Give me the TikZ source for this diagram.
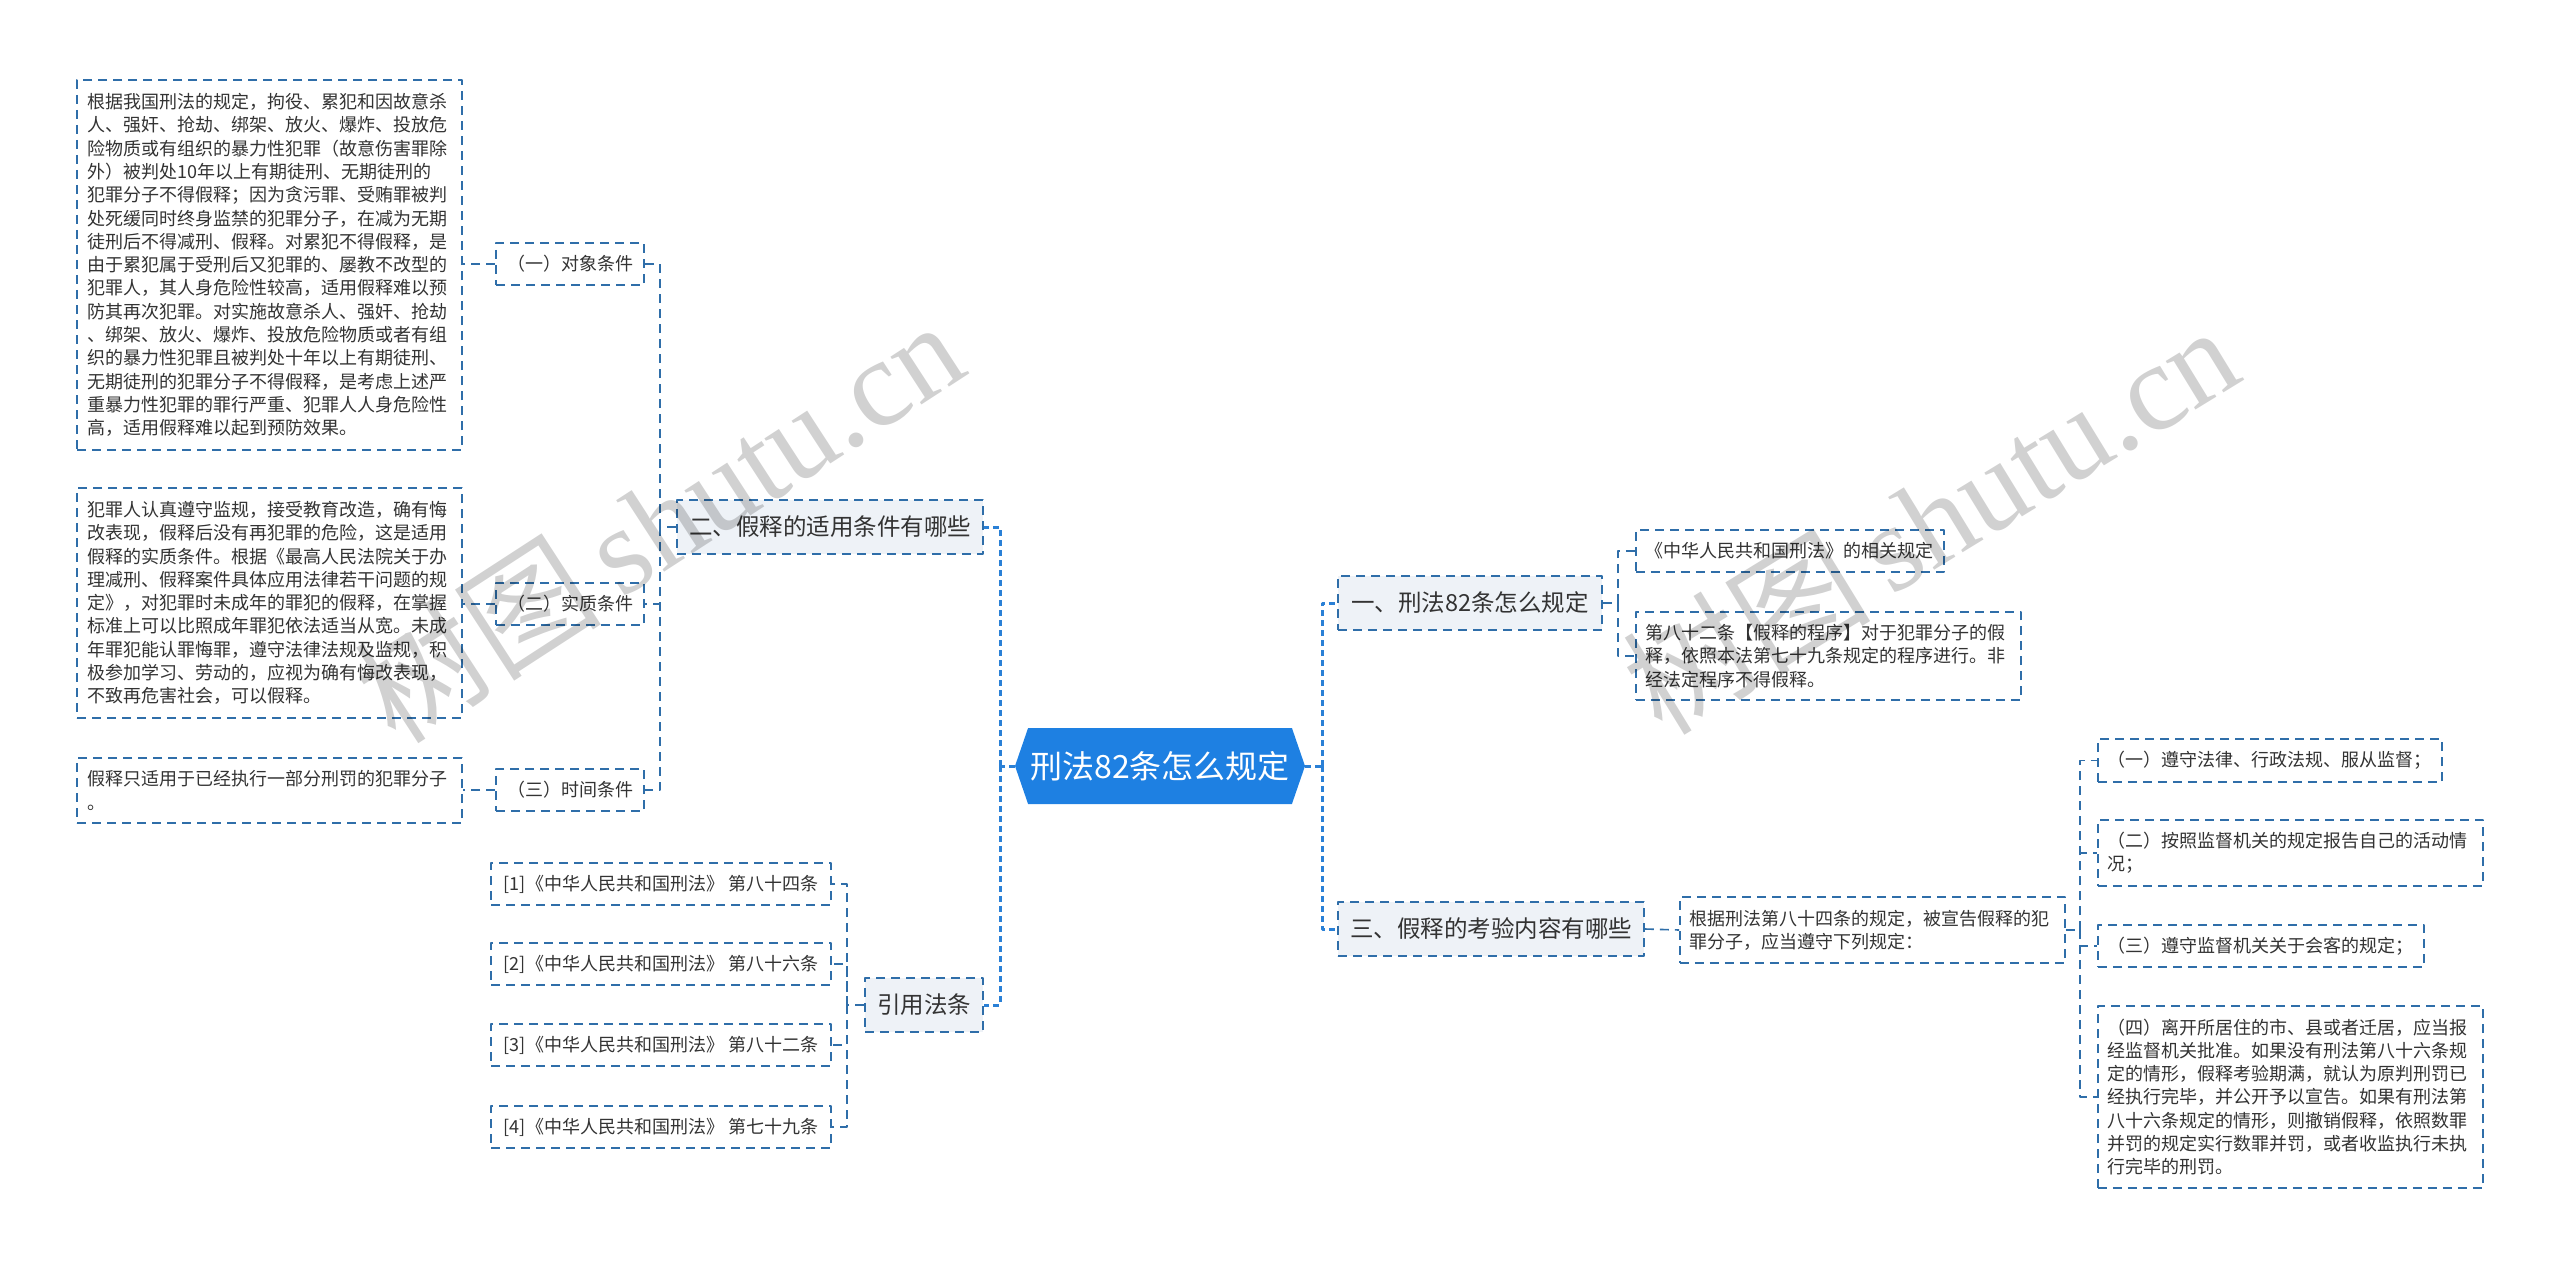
\documentclass[tikz,border=0pt]{standalone}
\usepackage{fontspec}
\setmainfont{Noto Sans CJK SC}
\newfontfamily\wmfont{Liberation Serif}
\usetikzlibrary{shapes.symbols}

\definecolor{lineblue}{HTML}{2F6EA9}
\definecolor{trunkblue}{HTML}{2A80D6}
\definecolor{rootblue}{HTML}{1E80E2}
\definecolor{topicfill}{HTML}{EEF2F7}
\definecolor{txt}{HTML}{333333}

\begin{document}
\begin{tikzpicture}[x=1pt, y=-1pt, line join=round]

	% Kiểu dáng chung cho các hộp và đường nối
	\tikzset{
		box/.style={draw=lineblue, line width=1.6pt, dash pattern=on 9pt off 6pt,
			fill=white, text=txt, inner xsep=10pt, inner ysep=3pt, align=left,
			font=\fontsize{18}{23.3}\selectfont},
		topic/.style={box, fill=topicfill, align=center, minimum height=54pt,
			inner xsep=8pt, font=\fontsize{23.5}{28}\selectfont},
		root/.style={shape=signal, signal to=east and west, signal pointer angle=142,
			fill=rootblue, text=white, minimum width=290pt, minimum height=76pt,
			inner sep=0pt, font=\fontsize{32}{36}\selectfont},
		link/.style={draw=lineblue, line width=1.6pt, dash pattern=on 9pt off 6pt},
		trunk/.style={draw=trunkblue, line width=3pt, dash pattern=on 6pt off 4pt},
		wmark/.style={text=black, opacity=0.18, font=\fontsize{124}{124}\selectfont}
	}

	\useasboundingbox (0,0) rectangle (2560,1268);

	% ----------------------------------------------------
	% NÚT GỐC VÀ CÁC NHÁNH CHÍNH
	% ----------------------------------------------------
	\node[root] (R) at (1160,766) {刑法82条怎么规定};

	\node[topic, minimum width=264pt] (K1) at (1470,603) {一、刑法82条怎么规定};
	\node[topic, minimum width=306pt] (K2) at (830,527) {二、假释的适用条件有哪些};
	\node[topic, minimum width=306pt] (K3) at (1491,929) {三、假释的考验内容有哪些};
	\node[topic, minimum width=118pt] (K4) at (924,1005) {引用法条};

	% ----------------------------------------------------
	% NHÁNH MỘT (bên phải, phía trên)
	% ----------------------------------------------------
	\node[box, anchor=west, minimum height=42pt] (K1a) at (1635,551) {《中华人民共和国刑法》的相关规定};
	\node[box, anchor=west, text width=365pt, minimum height=88pt] (K1b) at (1635,656)
		{第八十二条【假释的程序】对于犯罪分子的假\\释，依照本法第七十九条规定的程序进行。非\\经法定程序不得假释。};

	% ----------------------------------------------------
	% NHÁNH HAI (bên trái, phía trên)
	% ----------------------------------------------------
	\node[box, align=center, minimum width=148pt, minimum height=42pt] (K2a) at (570,264) {（一）对象条件};
	\node[box, align=center, minimum width=148pt, minimum height=42pt] (K2b) at (570,604) {（二）实质条件};
	\node[box, align=center, minimum width=148pt, minimum height=42pt] (K2c) at (570,790) {（三）时间条件};

	\node[box, anchor=east, text width=365pt, minimum height=370pt] (P2a) at (463,265)
		{根据我国刑法的规定，拘役、累犯和因故意杀\\人、强奸、抢劫、绑架、放火、爆炸、投放危\\险物质或有组织的暴力性犯罪（故意伤害罪除\\外）被判处10年以上有期徒刑、无期徒刑的\\犯罪分子不得假释；因为贪污罪、受贿罪被判\\处死缓同时终身监禁的犯罪分子，在减为无期\\徒刑后不得减刑、假释。对累犯不得假释，是\\由于累犯属于受刑后又犯罪的、屡教不改型的\\犯罪人，其人身危险性较高，适用假释难以预\\防其再次犯罪。对实施故意杀人、强奸、抢劫\\、绑架、放火、爆炸、投放危险物质或者有组\\织的暴力性犯罪且被判处十年以上有期徒刑、\\无期徒刑的犯罪分子不得假释，是考虑上述严\\重暴力性犯罪的罪行严重、犯罪人人身危险性\\高，适用假释难以起到预防效果。};
	\node[box, anchor=east, text width=365pt, minimum height=230pt] (P2b) at (463,603)
		{犯罪人认真遵守监规，接受教育改造，确有悔\\改表现，假释后没有再犯罪的危险，这是适用\\假释的实质条件。根据《最高人民法院关于办\\理减刑、假释案件具体应用法律若干问题的规\\定》，对犯罪时未成年的罪犯的假释，在掌握\\标准上可以比照成年罪犯依法适当从宽。未成\\年罪犯能认罪悔罪，遵守法律法规及监规，积\\极参加学习、劳动的，应视为确有悔改表现，\\不致再危害社会，可以假释。};
	\node[box, anchor=east, text width=365pt, minimum height=65pt] (P2c) at (463,790.5)
		{假释只适用于已经执行一部分刑罚的犯罪分子\\。};

	% ----------------------------------------------------
	% NHÁNH BA (bên phải, phía dưới)
	% ----------------------------------------------------
	\node[box, anchor=west, text width=365pt, minimum height=66pt] (K3a) at (1679,930)
		{根据刑法第八十四条的规定，被宣告假释的犯\\罪分子，应当遵守下列规定：};

	\node[box, anchor=west, minimum height=43pt] (Q1) at (2097,760.5) {（一）遵守法律、行政法规、服从监督；};
	\node[box, anchor=west, text width=365pt, minimum height=66pt] (Q2) at (2097,853)
		{（二）按照监督机关的规定报告自己的活动情\\况；};
	\node[box, anchor=west, minimum height=42pt] (Q3) at (2097,946) {（三）遵守监督机关关于会客的规定；};
	\node[box, anchor=west, text width=365pt, minimum height=182pt] (Q4) at (2097,1097)
		{（四）离开所居住的市、县或者迁居，应当报\\经监督机关批准。如果没有刑法第八十六条规\\定的情形，假释考验期满，就认为原判刑罚已\\经执行完毕，并公开予以宣告。如果有刑法第\\八十六条规定的情形，则撤销假释，依照数罪\\并罚的规定实行数罪并罚，或者收监执行未执\\行完毕的刑罚。};

	% ----------------------------------------------------
	% NHÁNH BỐN: trích dẫn điều luật
	% ----------------------------------------------------
	\node[box, align=center, minimum width=340pt, minimum height=42pt] (K4a) at (661,884) {[1]《中华人民共和国刑法》 第八十四条};
	\node[box, align=center, minimum width=340pt, minimum height=42pt] (K4b) at (661,964) {[2]《中华人民共和国刑法》 第八十六条};
	\node[box, align=center, minimum width=340pt, minimum height=42pt] (K4c) at (661,1045) {[3]《中华人民共和国刑法》 第八十二条};
	\node[box, align=center, minimum width=340pt, minimum height=42pt] (K4d) at (661,1127) {[4]《中华人民共和国刑法》 第七十九条};

	% ----------------------------------------------------
	% CÁC ĐƯỜNG NỐI
	% ----------------------------------------------------
	\coordinate (Lj) at (1000,766); % trục trái
	\coordinate (Rj) at (1322,766); % trục phải
	\draw[trunk] (R.west) -- (Lj);
	\draw[trunk] (Lj) |- (K2.east);
	\draw[trunk] (Lj) |- (K4.east);
	\draw[trunk] (R.east) -- (Rj);
	\draw[trunk] (Rj) |- (K1.west);
	\draw[trunk] (Rj) |- (K3.west);

	\coordinate (J1) at (1618,603);
	\draw[link] (K1.east) -- (J1) |- (K1a.west);
	\draw[link] (J1) |- (K1b.west);

	\coordinate (J2) at (660,527);
	\draw[link] (K2.west) -- (J2) |- (K2a.east);
	\draw[link] (J2) |- (K2b.east);
	\draw[link] (J2) |- (K2c.east);
	\draw[link] (K2a.west) -- (K2a.west -| P2a.east);
	\draw[link] (K2b.west) -- (K2b.west -| P2b.east);
	\draw[link] (K2c.west) -- (K2c.west -| P2c.east);

	\draw[link] (K3.east) -- (K3a.west);
	\coordinate (J3) at (2080,930);
	\draw[link] (K3a.east) -- (J3);
	\draw[link] (J3) |- (Q1.west);
	\draw[link] (J3) |- (Q2.west);
	\draw[link] (J3) |- (Q3.west);
	\draw[link] (J3) |- (Q4.west);

	\coordinate (J4) at (847,1005);
	\draw[link] (K4.west) -- (J4) |- (K4a.east);
	\draw[link] (J4) |- (K4b.east);
	\draw[link] (J4) |- (K4c.east);
	\draw[link] (J4) |- (K4d.east);

	% Hình mờ
	\node[wmark, rotate=33] (wm1) at (658,520) {树图\,{\wmfont shutu.cn}};
	\node[wmark, rotate=31.5] (wm2) at (1930,518) {树图\,{\wmfont shutu.cn}};

\end{tikzpicture}
\end{document}
